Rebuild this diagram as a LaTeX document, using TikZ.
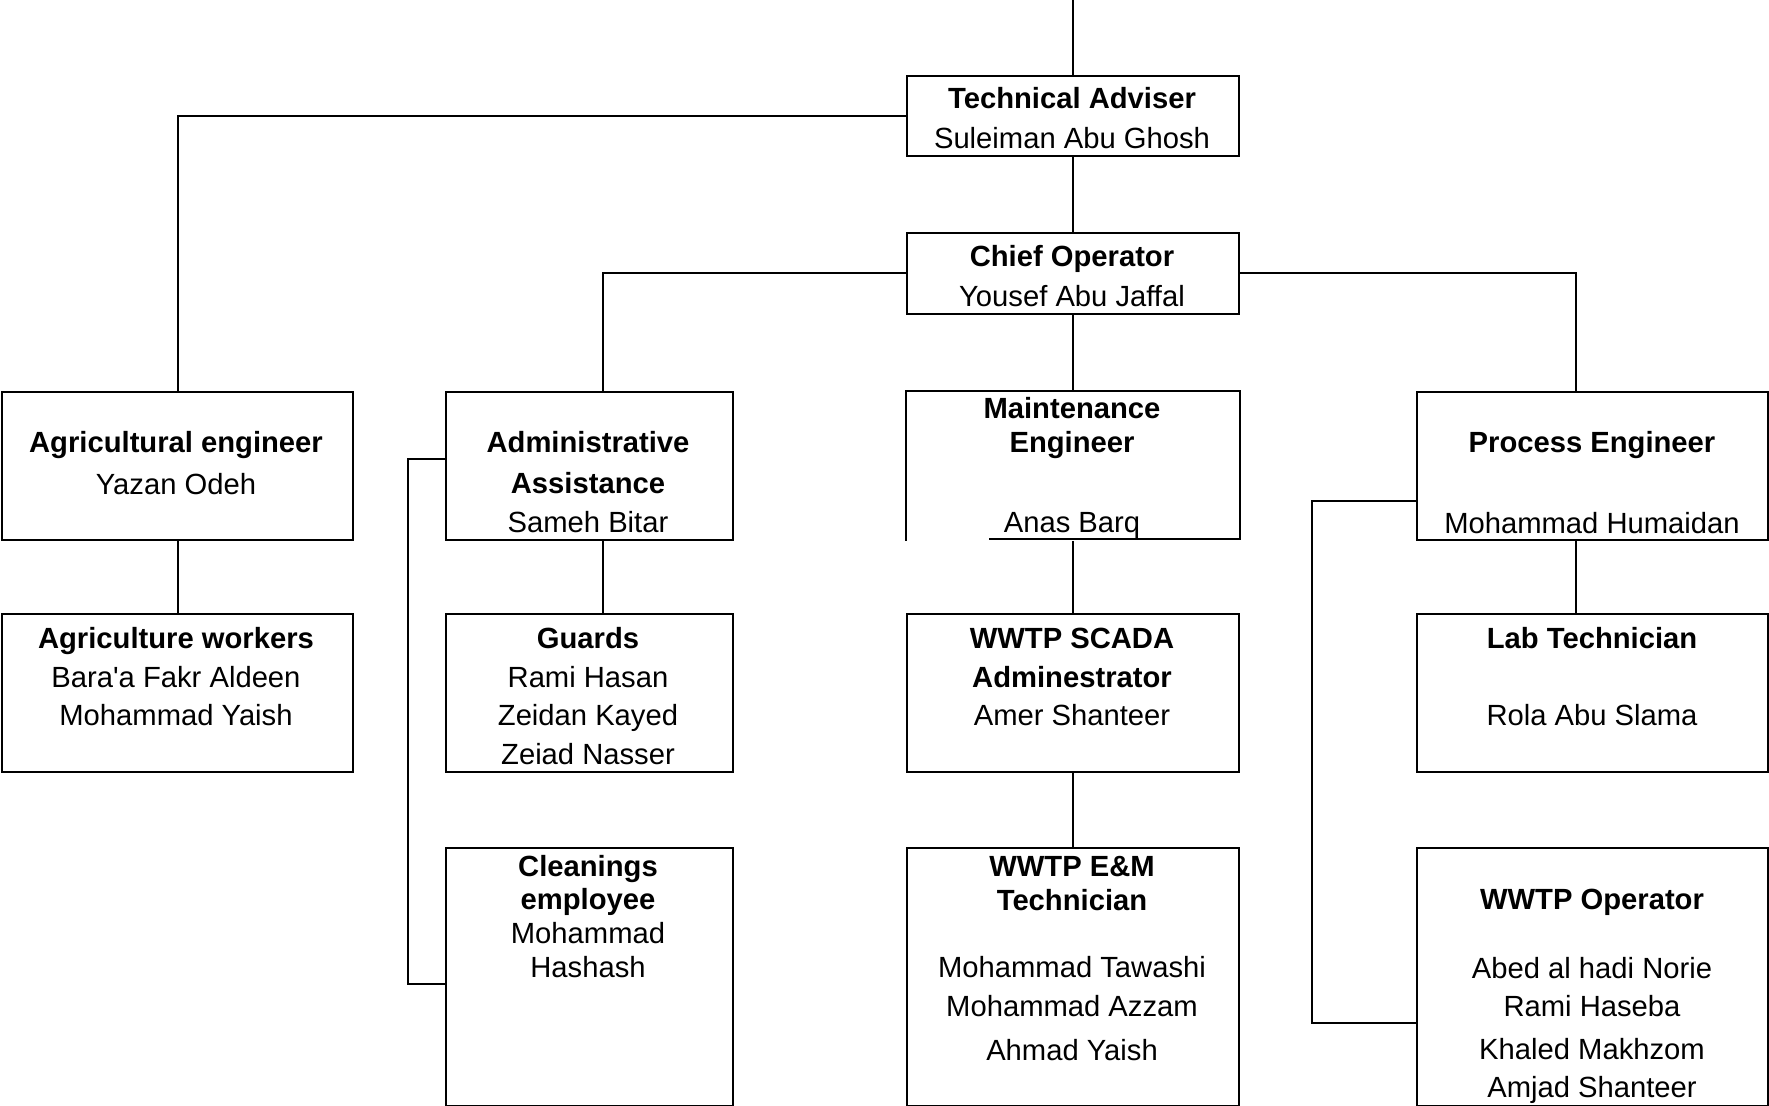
\documentclass[tikz,border=0pt]{standalone}
\usepackage{fontspec}
\setmainfont{Liberation Sans}
\tikzset{
  box/.style={draw, rectangle, line width=1pt, inner sep=0pt, anchor=north west},
  wide/.style={minimum width=175.5pt},
  mid/.style={minimum width=166pt},
  narrow/.style={minimum width=143.75pt},
  ttl/.style={font=\fontsize{14.6}{17}\selectfont\bfseries, anchor=base, inner sep=0pt},
  nm/.style={font=\fontsize{14.6}{17}\selectfont, anchor=base, inner sep=0pt},
  wire/.style={line width=1pt}
}
\begin{document}
\begin{tikzpicture}[x=0.5pt, y=-0.5pt]
\useasboundingbox (0,0) rectangle (1769,1106);
\coordinate (admx) at (602.5,0);
\coordinate (pex) at (1576,0);

\node[box, mid, minimum height=40pt] (ta) at (906,75) {};
\node[box, mid, minimum height=40.5pt] (co) at (906,232) {};
\node[box, wide, minimum height=73.75pt] (ae) at (1,391.5) {};
\node[box, narrow, minimum height=73.75pt] (adm) at (444.5,391.5) {};
\node[box, mid, minimum height=73.75pt, draw=none] (me) at (906,391.5) {};
\node[box, wide, minimum height=73.75pt] (pe) at (1416,391.5) {};
\node[box, wide, minimum height=79pt] (aw) at (1,612.6) {};
\node[box, narrow, minimum height=79pt] (gu) at (444.5,612.6) {};
\node[box, mid, minimum height=79pt] (sc) at (906,612.6) {};
\node[box, wide, minimum height=79pt] (lab) at (1416,612.6) {};
\node[box, narrow, minimum height=128.75pt] (cl) at (444.5,847.3) {};
\node[box, mid, minimum height=128.75pt] (em) at (906,847.3) {};
\node[box, wide, minimum height=128.75pt] (op) at (1416,847.3) {};
\draw[wire] (me.south west) |- (me.north east) |- (989,539);
\coordinate (top) at (ta.north |- 0,0);

\node[ttl] (ta-1) at (1072,109) {Technical Adviser};
\node[nm] (ta-2) at (1072,149) {Suleiman Abu Ghosh};
\node[ttl] (co-1) at (1072,267) {Chief Operator};
\node[nm] (co-2) at (1072,307) {Yousef Abu Jaffal};
\node[ttl] (ae-1) at (176,453) {Agricultural engineer};
\node[nm] (ae-2) at (176,494.5) {Yazan Odeh};
\node[ttl] (adm-1) at (588,453) {Administrative};
\node[ttl] (adm-2) at (588,494) {Assistance};
\node[nm] (adm-3) at (588,532.5) {Sameh Bitar};
\node[ttl] (me-1) at (1072,419) {Maintenance};
\node[ttl] (me-2) at (1072,453) {Engineer};
\node[nm] (me-3) at (1072,533) {Anas Barq};
\node[ttl] (pe-1) at (1592,453) {Process Engineer};
\node[nm] (pe-2) at (1592,533.3) {Mohammad Humaidan};
\node[ttl] (aw-1) at (176,648.5) {Agriculture workers};
\node[nm] (aw-2) at (176,687.5) {Bara\textquotesingle a Fakr Aldeen};
\node[nm] (aw-3) at (176,726) {Mohammad Yaish};
\node[ttl] (gu-1) at (588,648.5) {Guards};
\node[nm] (gu-2) at (588,687.5) {Rami Hasan};
\node[nm] (gu-3) at (588,726) {Zeidan Kayed};
\node[nm] (gu-4) at (588,764.5) {Zeiad Nasser};
\node[ttl] (sc-1) at (1072,648.5) {WWTP SCADA};
\node[ttl] (sc-2) at (1072,687.5) {Adminestrator};
\node[nm] (sc-3) at (1072,725.5) {Amer Shanteer};
\node[ttl] (lab-1) at (1592,648.5) {Lab Technician};
\node[nm] (lab-2) at (1592,725.5) {Rola Abu Slama};
\node[ttl] (cl-1) at (588,876.5) {Cleanings};
\node[ttl] (cl-2) at (588,910) {employee};
\node[nm] (cl-3) at (588,943) {Mohammad};
\node[nm] (cl-4) at (588,978) {Hashash};
\node[ttl] (em-1) at (1072,877) {WWTP E\&M};
\node[ttl] (em-2) at (1072,910.5) {Technician};
\node[nm] (em-3) at (1072,977.5) {Mohammad Tawashi};
\node[nm] (em-4) at (1072,1016.5) {Mohammad Azzam};
\node[nm] (em-5) at (1072,1060) {Ahmad Yaish};
\node[ttl] (op-1) at (1592,909.5) {WWTP Operator};
\node[nm] (op-2) at (1592,978.5) {Abed al hadi Norie};
\node[nm] (op-3) at (1592,1016) {Rami Haseba};
\node[nm] (op-4) at (1592,1059.3) {Khaled Makhzom};
\node[nm] (op-5) at (1592,1097.7) {Amjad Shanteer};

\draw[wire] (top) -- (ta.north);
\draw[wire] (ta.west) -| (ae.north);
\draw[wire] (ta.south) -- (co.north);
\draw[wire] (co.west) -| (admx |- adm.north);
\draw[wire] (co.south) -- (me.north);
\draw[wire] (co.east) -| (pex |- pe.north);
\draw[wire] (ae.south) -- (aw.north);
\draw[wire] (admx |- adm.south) -- (admx |- gu.north);
\draw[wire] (me.south) -- (sc.north);
\draw[wire] (sc.south) -- (em.north);
\draw[wire] (pex |- pe.south) -- (pex |- lab.north);
\draw[wire] (adm.west |- 0,459) -| (408,984) -- (cl.west |- 0,984);
\draw[wire] (pe.west |- 0,501) -| (1312,1023) -- (op.west |- 0,1023);
\end{tikzpicture}
\end{document}
